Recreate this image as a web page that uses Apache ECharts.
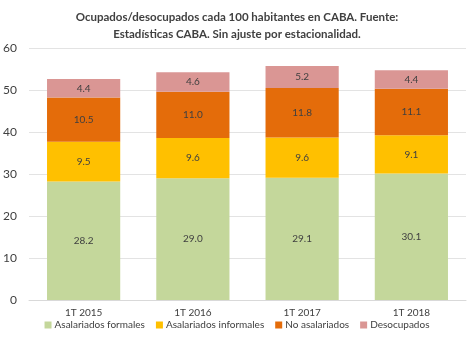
<!DOCTYPE html>
<html>
<head>
<meta charset="utf-8">
<script src="https://cdn.jsdelivr.net/npm/echarts@6/dist/echarts.min.js"></script>
<style>
html,body{margin:0;padding:0;background:#fff;}
#chart{width:474px;height:344px;}
</style>
</head>
<body>
<div id="chart"></div>
<script>
// Quarterly categories and stacked values (per 100 inhabitants)
const categories = ['1T 2015', '1T 2016', '1T 2017', '1T 2018'];
const formales = [28.2, 29.0, 29.1, 30.1];
const informales = [9.5, 9.6, 9.6, 9.1];
const noAsalariados = [10.5, 11.0, 11.8, 11.1];
const desocupados = [4.4, 4.6, 5.2, 4.4];
const seriesNames = ['Asalariados formales', 'Asalariados informales', 'No asalariados', 'Desocupados'];
const seriesColors = ['#C4D79B', '#FFC000', '#E46C0A', '#DA9694'];

const font = 'Lato, "Open Sans", sans-serif';
const chart = echarts.init(document.getElementById('chart'), null, {renderer: 'canvas'});

function makeSeries(name, data, color) {
  return {
    name: name,
    type: 'bar',
    stack: 'total',
    data: data,
    barWidth: '67%',
    itemStyle: {color: color},
    label: {
      show: true,
      position: 'inside',
      color: '#404040',
      fontFamily: font,
      fontSize: 10,
      formatter: p => p.value.toFixed(1)
    },
    emphasis: {disabled: true}
  };
}

chart.setOption({
  animation: false,
  title: {
    text: 'Ocupados/desocupados cada 100 habitantes en CABA. Fuente:\nEstadísticas CABA. Sin ajuste por estacionalidad.',
    left: 'center',
    top: 4,
    textStyle: {
      fontFamily: font,
      fontWeight: 'bold',
      fontSize: 11.5,
      color: '#404040',
      lineHeight: 17
    }
  },
  legend: {
    bottom: 9,
    left: 'center',
    itemWidth: 7,
    itemHeight: 7,
    itemGap: 11,
    icon: 'rect',
    textStyle: {fontFamily: font, fontSize: 10, color: '#404040', padding: [0, 0, 0, -2]},
    data: seriesNames
  },
  grid: {left: 29, right: 8, top: 48, bottom: 44, containLabel: false},
  xAxis: {
    type: 'category',
    data: categories,
    axisTick: {show: false},
    axisLine: {lineStyle: {color: '#D9D9D9'}},
    axisLabel: {fontFamily: font, fontSize: 10, color: '#404040', margin: 8}
  },
  yAxis: {
    type: 'value',
    min: 0,
    max: 60,
    interval: 10,
    axisLine: {show: false},
    axisTick: {show: false},
    splitLine: {lineStyle: {color: '#E3E3E3'}},
    axisLabel: {fontFamily: font, fontSize: 12, color: '#404040', margin: 12}
  },
  series: [
    makeSeries(seriesNames[0], formales, seriesColors[0]),
    makeSeries(seriesNames[1], informales, seriesColors[1]),
    makeSeries(seriesNames[2], noAsalariados, seriesColors[2]),
    makeSeries(seriesNames[3], desocupados, seriesColors[3])
  ]
});
</script>
</body>
</html>
